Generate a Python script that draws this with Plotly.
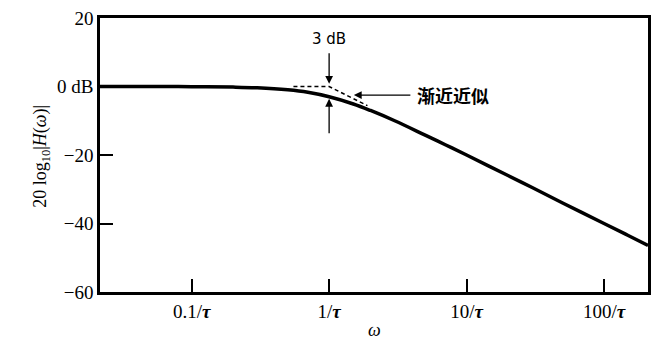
import plotly.graph_objects as go

# Bode magnitude curve (omega in units of 1/tau, dB)
omega = [0.02, 0.05, 0.1, 0.2, 0.3, 0.5, 0.7, 1.0, 1.5, 2.0, 3.0, 5.0, 7.0, 10.0, 20.0, 30.0, 50.0, 100.0, 150.0, 209.0]
mag_db = [0.0, 0.0, -0.04, -0.17, -0.37, -0.97, -1.7, -3.0, -5.1, -7.0, -10.0, -14.2, -17.0, -20.0, -26.0, -29.5, -34.0, -40.0, -43.5, -46.4]

# Asymptotic approximation (dashed)
asym_w = [0.55, 1.0, 1.9]
asym_db = [0.0, 0.0, -5.6]

x_tickvals = [0.1, 1, 10, 100]
x_ticktext = ["0.1/<b><i>τ</i></b>", "1/<b><i>τ</i></b>", "10/<b><i>τ</i></b>", "100/<b><i>τ</i></b>"]
y_tickvals = [20, 0, -20, -40, -60]
y_ticktext = ["20", "0 dB", "−20", "−40", "−60"]

serif = "Liberation Serif"

fig = go.Figure()
fig.add_trace(go.Scatter(x=omega, y=mag_db, mode="lines",
                         line=dict(color="black", width=3.5, shape="spline"),
                         hoverinfo="skip", showlegend=False))
fig.add_trace(go.Scatter(x=asym_w, y=asym_db, mode="lines",
                         line=dict(color="black", width=1.5, dash="4px,3px"),
                         hoverinfo="skip", showlegend=False))

fig.update_layout(
    width=659, height=352,
    margin=dict(l=100, r=8, t=15, b=60),
    paper_bgcolor="white", plot_bgcolor="white",
    font=dict(family=serif, size=16, color="black"),
    xaxis=dict(type="log", range=[-1.667, 2.32],
               tickvals=x_tickvals, ticktext=x_ticktext,
               ticks="inside", ticklen=13, tickwidth=1.5, tickcolor="black",
               showline=True, linewidth=2.5, linecolor="black", mirror=True,
               showgrid=False, zeroline=False,
               tickfont=dict(family=serif, size=19)),
    yaxis=dict(range=[-60, 20],
               tickvals=y_tickvals, ticktext=y_ticktext,
               ticks="inside", ticklen=13, tickwidth=1.5, tickcolor="black",
               showline=True, linewidth=2.5, linecolor="black", mirror=True,
               showgrid=False, zeroline=False,
               tickfont=dict(family=serif, size=19)),
)

anns = [
    # y-axis title
    dict(text="20 log<sub>10</sub>|<i>H</i>(<i>ω</i>)|", xref="paper", yref="paper",
         x=0, y=0.495, xshift=-72, textangle=-90, showarrow=False,
         font=dict(family=serif, size=18)),
    # x-axis title
    dict(text="<i>ω</i>", xref="paper", yref="paper", x=0.5, y=0, yshift=-50,
         showarrow=False, font=dict(family=serif, size=18)),
    # 3 dB label
    dict(text="3 dB", xref="x", yref="y", x=0, y=14, showarrow=False,
         font=dict(family="DejaVu Sans", size=15)),
    # down arrow to 0 dB
    dict(text="", xref="x", yref="y", x=0, y=0.8, ax=0, ay=-32,
         showarrow=True, arrowhead=2, arrowsize=1.2, arrowwidth=1.3, arrowcolor="black"),
    # up arrow to -3 dB
    dict(text="", xref="x", yref="y", x=0, y=-3.6, ax=0, ay=36,
         showarrow=True, arrowhead=2, arrowsize=1.2, arrowwidth=1.3, arrowcolor="black"),
    # arrow pointing at asymptote
    dict(text="", xref="x", yref="y", x=0.18, y=-2.5, ax=58, ay=0,
         showarrow=True, arrowhead=2, arrowsize=1.2, arrowwidth=1.3, arrowcolor="black"),
    dict(text="<b>渐近近似</b>", xref="x", yref="y", x=0.18, y=-2.5, xshift=61,
         xanchor="left", showarrow=False,
         font=dict(family="Noto Sans CJK SC", size=18)),
]
fig.update_layout(annotations=anns)

fig.write_html("out.html")
